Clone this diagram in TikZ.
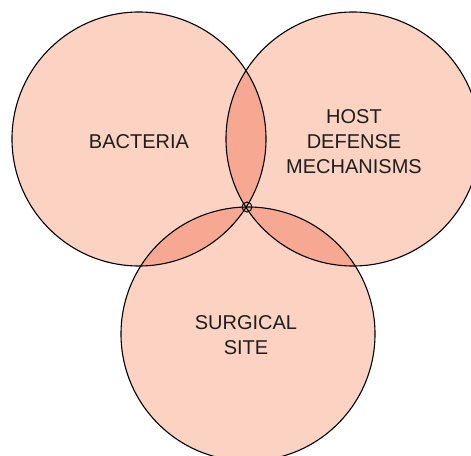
\documentclass[tikz,border=0pt]{standalone}
\usepackage{fontspec}
\setmainfont{Liberation Sans}
\definecolor{light}{HTML}{FCD3C3}
\definecolor{dark}{HTML}{F7A893}
\definecolor{ink}{HTML}{1E1E1E}
\begin{document}
\begin{tikzpicture}[x=1pt,y=-1pt,
  setcircle/.style={circle, draw=black, line width=1.1pt, minimum size=254pt, inner sep=0pt},
  settext/.style={text=ink, align=center, font=\fontsize{20}{25}\selectfont, inner sep=0pt}]
\useasboundingbox (0,0) rectangle (471,455);
\clip (0,0) rectangle (471,455);
\coordinate (cl) at (139,139);
\coordinate (cr) at (353,139);
\coordinate (cb) at (248,334);
\fill[light] (cl) circle (127) (cr) circle (127) (cb) circle (127);
\begin{scope}
  \clip (cl) circle (127);
  \fill[dark] (cr) circle (127);
  \fill[dark] (cb) circle (127);
\end{scope}
\begin{scope}
  \clip (cr) circle (127);
  \fill[dark] (cb) circle (127);
\end{scope}
\node[setcircle] (bact) at (cl) {};
\node[setcircle] (host) at (cr) {};
\node[setcircle] (site) at (cb) {};
\node[settext] (bacttext) at ([yshift=-3pt]bact.center) {BACTERIA};
\node[settext] (hosttext) at ([xshift=1pt,yshift=-3pt]host.center) {HOST\\DEFENSE\\MECHANISMS};
\node[settext] (sitetext) at ([xshift=-2pt,yshift=-1.5pt]site.center) {SURGICAL\\SITE};
\node[circle, draw=black, line width=1pt, minimum size=10pt, inner sep=0pt] (hub) at (247,207) {};
\end{tikzpicture}
\end{document}
